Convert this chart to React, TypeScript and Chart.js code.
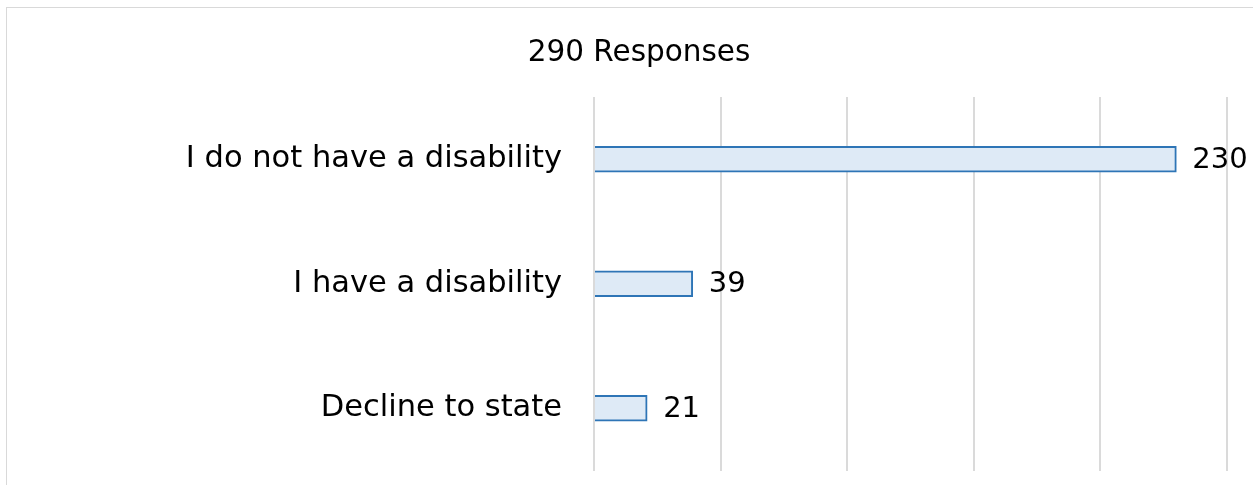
import React, { useEffect, useRef } from "react";
import { Chart, registerables } from "chart.js";

Chart.register(...registerables);

const categories = ["I do not have a disability", "I have a disability", "Decline to state"];
const responseCounts = [230, 39, 21];
const chartTitle = "290 Responses";
const axisMax = 250;
const axisStep = 50;

const FONT = "'DejaVu Sans', sans-serif";

const valueLabels = {
  id: "valueLabels",
  afterDatasetsDraw(chart: any) {
    const ctx = chart.ctx;
    const meta = chart.getDatasetMeta(0);
    ctx.save();
    ctx.font = `29px ${FONT}`;
    ctx.fillStyle = "#000000";
    ctx.textAlign = "left";
    ctx.textBaseline = "middle";
    meta.data.forEach((bar: any, i: number) => {
      const v = chart.data.datasets[0].data[i];
      ctx.fillText(String(v), bar.x + 16, bar.y + 1);
    });
    ctx.restore();
  },
};

export default function App() {
  const canvasRef = useRef<HTMLCanvasElement | null>(null);

  useEffect(() => {
    if (!canvasRef.current) return;
    const chart = new Chart(canvasRef.current, {
      type: "bar",
      data: {
        labels: categories,
        datasets: [
          {
            data: responseCounts,
            backgroundColor: "#deeaf6",
            borderColor: "#2e75b6",
            borderWidth: 2,
            barThickness: 26,
          },
        ],
      },
      options: {
        indexAxis: "y",
        animation: false,
        responsive: false,
        maintainAspectRatio: false,
        layout: { padding: { left: 44, right: 44, top: 0, bottom: 27.5 } },
        plugins: {
          legend: { display: false },
          tooltip: { enabled: false },
          title: {
            display: true,
            text: chartTitle,
            color: "#000000",
            font: { family: FONT, size: 29.5, weight: "normal" },
            padding: { top: 27.3, bottom: 26.3 },
          },
        },
        scales: {
          x: {
            min: 0,
            max: axisMax,
            ticks: { display: false, stepSize: axisStep },
            grid: { color: "#dadada", lineWidth: 2, drawTicks: false },
            border: { display: false },
          },
          y: {
            afterFit: (scale: any) => {
              scale.width = 543;
              scale.paddingTop = 0;
              scale.paddingBottom = 0;
            },
            ticks: {
              color: "#000000",
              font: { family: FONT, size: 30.5 },
              padding: 32,
            },
            grid: { display: false, drawTicks: false },
            border: { display: false },
          },
        },
      },
      plugins: [valueLabels],
    });
    return () => chart.destroy();
  }, []);

  return (
    <>
      <style>{`body{margin:0;overflow:hidden;background:#ffffff}`}</style>
      <div
        style={{
          position: "absolute",
          left: 6,
          top: 7,
          width: 1300,
          height: 520,
          borderLeft: "1.5px solid #d9d9d9",
          borderTop: "1.5px solid #d9d9d9",
        }}
      >
        <canvas ref={canvasRef} width={1264} height={490} style={{ display: "block" }} />
      </div>
    </>
  );
}
